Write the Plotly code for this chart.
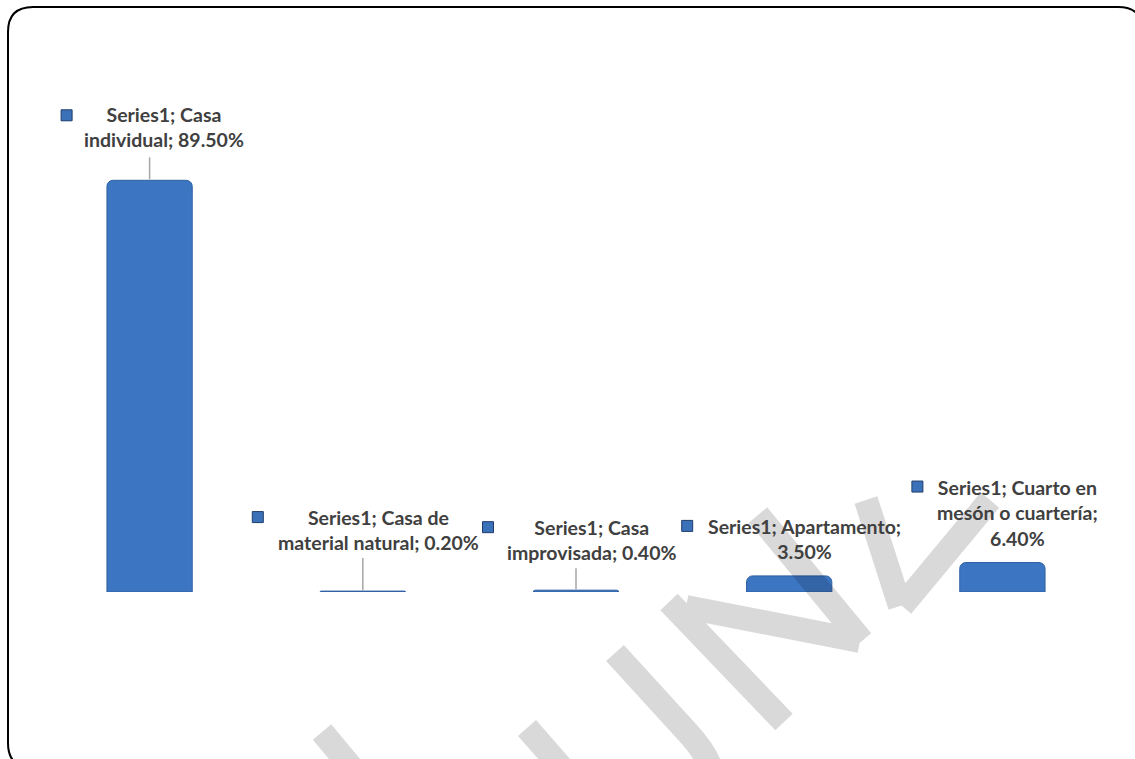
import plotly.graph_objects as go

# --- data ---
categories = ["Casa individual", "Casa de material natural", "Casa improvisada",
              "Apartamento", "Cuarto en mesón o cuartería"]
values = [89.5, 0.2, 0.4, 3.5, 6.4]
series_name = "Series1"
# words per line when the label wraps
label_breaks = [[2], [3], [2], [2], [3, 6]]

# --- label placement (pixels, relative to top of each bar) ---
text_dx = [14, 16, 15, 15, 15]
text_up = [53, 61, 50, 37, 50]
key_dx = [-83, -105, -88, -102, -85]
key_up = [65, 74, 63, 50, 76]
leader_len = [23, 33, 22, 0, 0]

W, H = 1135, 759
ML, MR, MT, MB = 43, 26, 20, 167
PW, PH = W - ML - MR, H - MT - MB
PX_PER_UNIT = 4.6  # 89.5% bar is ~412 px tall


def paper(x, y):
    # pixel -> paper coords
    return (x - ML) / PW, (H - MB - y) / PH


def make_label(cat, val, breaks):
    words = f"{series_name}; {cat}; {val:.2f}%".split(" ")
    lines, start = [], 0
    for b in breaks + [len(words)]:
        lines.append(" ".join(words[start:b]))
        start = b
    return "<br>".join(lines)


x_idx = list(range(len(categories)))

fig = go.Figure(go.Bar(
    x=x_idx, y=values, width=0.4,
    hovertext=categories,
    marker=dict(color="#3c76c2", line=dict(color="#2f5f9f", width=1), cornerradius=6),
))

shapes = []

# outer rounded frame
x0, y0 = paper(8, 7)
x1, y1 = paper(1143, 768)
rx, ry = 25 / PW, 25 / PH
frame = (f"M {x0 + rx},{y0} L {x1 - rx},{y0} Q {x1},{y0} {x1},{y0 - ry} "
         f"L {x1},{y1 + ry} Q {x1},{y1} {x1 - rx},{y1} L {x0 + rx},{y1} "
         f"Q {x0},{y1} {x0},{y1 + ry} L {x0},{y0 - ry} Q {x0},{y0} {x0 + rx},{y0} Z")
shapes.append(dict(type="path", xref="paper", yref="paper", path=frame,
                   line=dict(color="black", width=2)))

# faint watermark strokes (one path so overlaps don't darken)
wm = [
    [(322, 732), (352, 768)],
    [(527, 728), (562, 768)],
    [(615, 653), (688, 733), (708, 755), (712, 772)],
    [(669, 602), (784, 722)],
    [(686, 607), (860, 641)],
    [(758, 515), (862, 641)],
    [(866, 500), (900, 606)],
    [(902, 606), (990, 500)],
]
segs = []
for pts in wm:
    p = [paper(*q) for q in pts]
    if len(p) == 2:
        segs.append(f"M {p[0][0]},{p[0][1]} L {p[1][0]},{p[1][1]}")
    else:
        segs.append(f"M {p[0][0]},{p[0][1]} L {p[1][0]},{p[1][1]} "
                    f"Q {p[2][0]},{p[2][1]} {p[3][0]},{p[3][1]}")
shapes.append(dict(type="path", xref="paper", yref="paper", path=" ".join(segs),
                   line=dict(color="rgba(0,0,0,0.15)", width=24)))

annotations = []
for i, (cat, val) in enumerate(zip(categories, values)):
    # leader line
    if leader_len[i]:
        shapes.append(dict(type="line", xref="x", yref="y",
                           xsizemode="pixel", ysizemode="pixel",
                           xanchor=i, yanchor=val, x0=0, x1=0, y0=1, y1=leader_len[i],
                           line=dict(color="#a6a6a6", width=1.5)))
    # legend key
    shapes.append(dict(type="rect", xref="x", yref="y",
                       xsizemode="pixel", ysizemode="pixel",
                       xanchor=i, yanchor=val,
                       x0=key_dx[i] - 5.5, x1=key_dx[i] + 5.5,
                       y0=key_up[i] - 5.5, y1=key_up[i] + 5.5,
                       fillcolor="#3a71b8", line=dict(color="#1f3d6b", width=1)))
    annotations.append(dict(
        x=i, y=val, xref="x", yref="y", xshift=text_dx[i], yshift=text_up[i],
        text="<b>" + make_label(cat, val, label_breaks[i]) + "</b>",
        showarrow=False, xanchor="center", yanchor="middle", align="center",
        font=dict(family="Lato", size=19.5, color="#404040"),
    ))

fig.update_layout(
    width=W, height=H,
    margin=dict(l=ML, r=MR, t=MT, b=MB),
    paper_bgcolor="white", plot_bgcolor="white",
    showlegend=False,
    xaxis=dict(range=[-0.5, 4.5], visible=False),
    yaxis=dict(range=[0, PH / PX_PER_UNIT], visible=False),
    shapes=shapes,
    annotations=annotations,
)

fig.write_html("out.html", config={"displayModeBar": False},
               post_script="document.body.style.margin='0px';")
